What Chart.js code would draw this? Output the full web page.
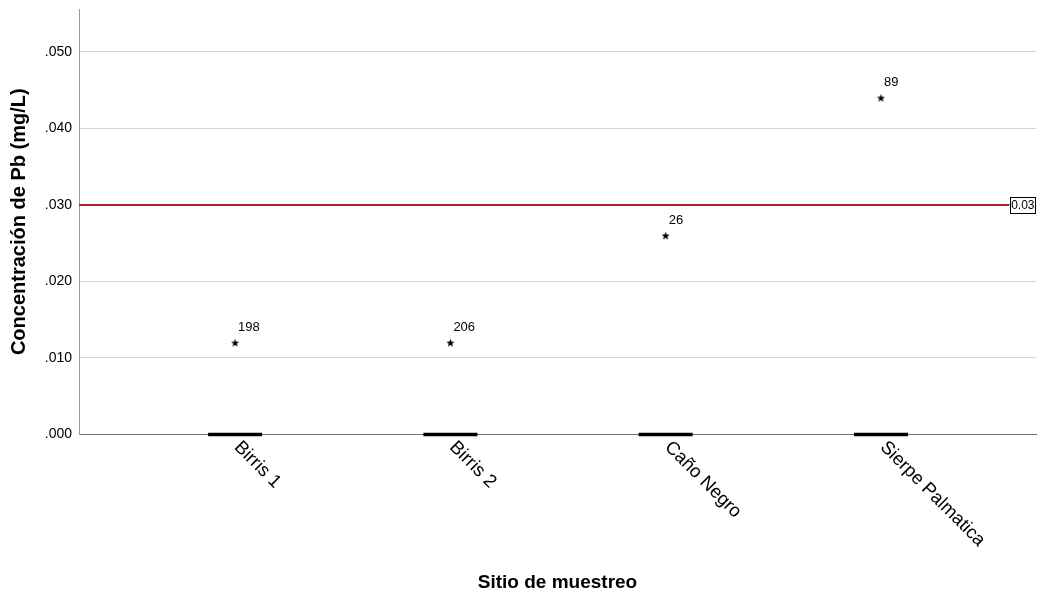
<!DOCTYPE html>
<html lang="es">
<head>
<meta charset="utf-8">
<title>Concentración de Pb por sitio de muestreo</title>
<script src="https://cdn.jsdelivr.net/npm/chart.js@4.4.0/dist/chart.umd.min.js"></script>
<style>
  html, body { margin: 0; padding: 0; background: #ffffff; }
  #wrap { position: relative; width: 1039px; height: 601px; }
</style>
</head>
<body>
<div id="wrap"><canvas id="chart"></canvas></div>
<script>
// Sampling sites (category axis)
const sites = ['Birris 1', 'Birris 2', 'Caño Negro', 'Sierpe Palmatica'];
// Box-plot medians (boxes collapse to a single line at zero)
const medians = [0, 0, 0, 0];
// Extreme values per site and their case numbers
const extremeValues = [0.012, 0.012, 0.026, 0.044];
const extremeCases = ['198', '206', '26', '89'];
// Reference limit
const limitValue = 0.03;
const limitLabel = '0.03';
// Y-axis range and tick step
const yMin = 0;
const yMax = 0.0556;
const yStep = 0.01;

const FONT = "'Liberation Sans', Arial, sans-serif";

// Small filled five-pointed star used for extreme values
function makeStar(size) {
  const c = document.createElement('canvas');
  c.width = size; c.height = size;
  const g = c.getContext('2d');
  const cx = size / 2, cy = size / 2, R = size / 2 - 0.2, r = R * 0.42;
  g.beginPath();
  for (let i = 0; i < 10; i++) {
    const rad = i % 2 === 0 ? R : r;
    const a = -Math.PI / 2 + i * Math.PI / 5;
    const px = cx + rad * Math.cos(a), py = cy + rad * Math.sin(a) + 0.5;
    if (i === 0) g.moveTo(px, py); else g.lineTo(px, py);
  }
  g.closePath();
  g.fillStyle = '#000';
  g.fill();
  return c;
}
const starImg = makeStar(9);

const medianPoints = medians.map((v, i) => ({ x: i, y: v }));
const extremePoints = extremeValues.map((v, i) => ({ x: i, y: v }));

// Horizontal reference line with a boxed value label at the right end
const limitLinePlugin = {
  id: 'limitLine',
  afterDatasetsDraw(chart) {
    const { ctx, chartArea, scales } = chart;
    const y = scales.y.getPixelForValue(limitValue);
    ctx.save();
    ctx.font = '12px ' + FONT;
    const tw = ctx.measureText(limitLabel).width;
    const boxW = tw + 3, boxH = 16;
    const boxX = chartArea.right - boxW;
    ctx.strokeStyle = '#b22222';
    ctx.lineWidth = 2;
    ctx.beginPath();
    ctx.moveTo(chartArea.left, y);
    ctx.lineTo(boxX, y);
    ctx.stroke();
    ctx.fillStyle = '#fff';
    ctx.fillRect(boxX, y - boxH / 2, boxW, boxH);
    ctx.strokeStyle = '#000';
    ctx.lineWidth = 1;
    ctx.strokeRect(Math.round(boxX) + 0.5, Math.round(y - boxH / 2) + 0.5, Math.round(boxW) - 1, boxH);
    ctx.fillStyle = '#000';
    ctx.textAlign = 'center';
    ctx.textBaseline = 'middle';
    ctx.fillText(limitLabel, boxX + boxW / 2, y + 1);
    ctx.restore();
  }
};

// Case-number labels beside the extreme-value stars
const caseLabelPlugin = {
  id: 'caseLabels',
  afterDatasetsDraw(chart) {
    const meta = chart.getDatasetMeta(1);
    const { ctx } = chart;
    ctx.save();
    ctx.font = '13px ' + FONT;
    ctx.fillStyle = '#000';
    ctx.textAlign = 'left';
    ctx.textBaseline = 'middle';
    meta.data.forEach((pt, i) => {
      ctx.fillText(extremeCases[i], pt.x + 3, pt.y - 15);
    });
    ctx.restore();
  }
};

// Category labels, slanted downward to the right from each tick
const siteLabelPlugin = {
  id: 'siteLabels',
  afterDraw(chart) {
    const { ctx, chartArea, scales } = chart;
    ctx.save();
    ctx.font = '18.5px ' + FONT;
    ctx.fillStyle = '#000';
    ctx.textAlign = 'left';
    ctx.textBaseline = 'middle';
    sites.forEach((name, i) => {
      const x = scales.x.getPixelForValue(i);
      ctx.save();
      ctx.translate(x + 2, chartArea.bottom + 10);
      ctx.rotate(Math.PI / 4);
      ctx.fillText(name, 0, 0);
      ctx.restore();
    });
    ctx.restore();
  }
};

new Chart(document.getElementById('chart'), {
  type: 'scatter',
  data: {
    datasets: [
      {
        label: 'Mediana',
        data: medianPoints,
        pointStyle: 'line',
        radius: 27,
        hoverRadius: 27,
        borderColor: '#000',
        borderWidth: 3.5,
        backgroundColor: '#000',
        clip: false
      },
      {
        label: 'Extremos',
        data: extremePoints,
        pointStyle: starImg,
        radius: 5,
        hoverRadius: 5,
        clip: false
      }
    ]
  },
  options: {
    responsive: true,
    maintainAspectRatio: false,
    animation: false,
    events: [],
    layout: { autoPadding: false, padding: { top: 9, right: 3, bottom: 0, left: 0 } },
    plugins: {
      legend: { display: false },
      tooltip: { enabled: false }
    },
    scales: {
      x: {
        type: 'linear',
        min: -0.725,
        max: 3.72,
        grid: { display: false, drawTicks: false },
        border: { display: true, color: '#6e6e6e', width: 1 },
        ticks: { display: false },
        afterFit(scale) {
          scale.height = 166.5;
          scale.paddingLeft = 0;
          scale.paddingRight = 0;
        },
        title: {
          display: true,
          text: 'Sitio de muestreo',
          color: '#000',
          font: { family: FONT, size: 19, weight: 'bold' },
          padding: { top: 0, bottom: 7 }
        }
      },
      y: {
        type: 'linear',
        min: yMin,
        max: yMax,
        grid: { color: '#d3d3d3', lineWidth: 1, drawTicks: false },
        border: { display: true, color: '#9a9a9a', width: 1 },
        ticks: {
          stepSize: yStep,
          includeBounds: false,
          padding: 7,
          color: '#000',
          font: { family: FONT, size: 14 },
          callback: (v) => v.toFixed(3).replace(/^0/, '')
        },
        afterFit(scale) {
          scale.width = 79;
          scale.paddingTop = 0;
          scale.paddingBottom = 0;
        },
        title: {
          display: true,
          text: 'Concentración de Pb (mg/L)',
          color: '#000',
          font: { family: FONT, size: 20, weight: 'bold' },
          padding: { top: 7, bottom: 0 }
        }
      }
    }
  },
  plugins: [limitLinePlugin, caseLabelPlugin, siteLabelPlugin]
});
</script>
</body>
</html>
